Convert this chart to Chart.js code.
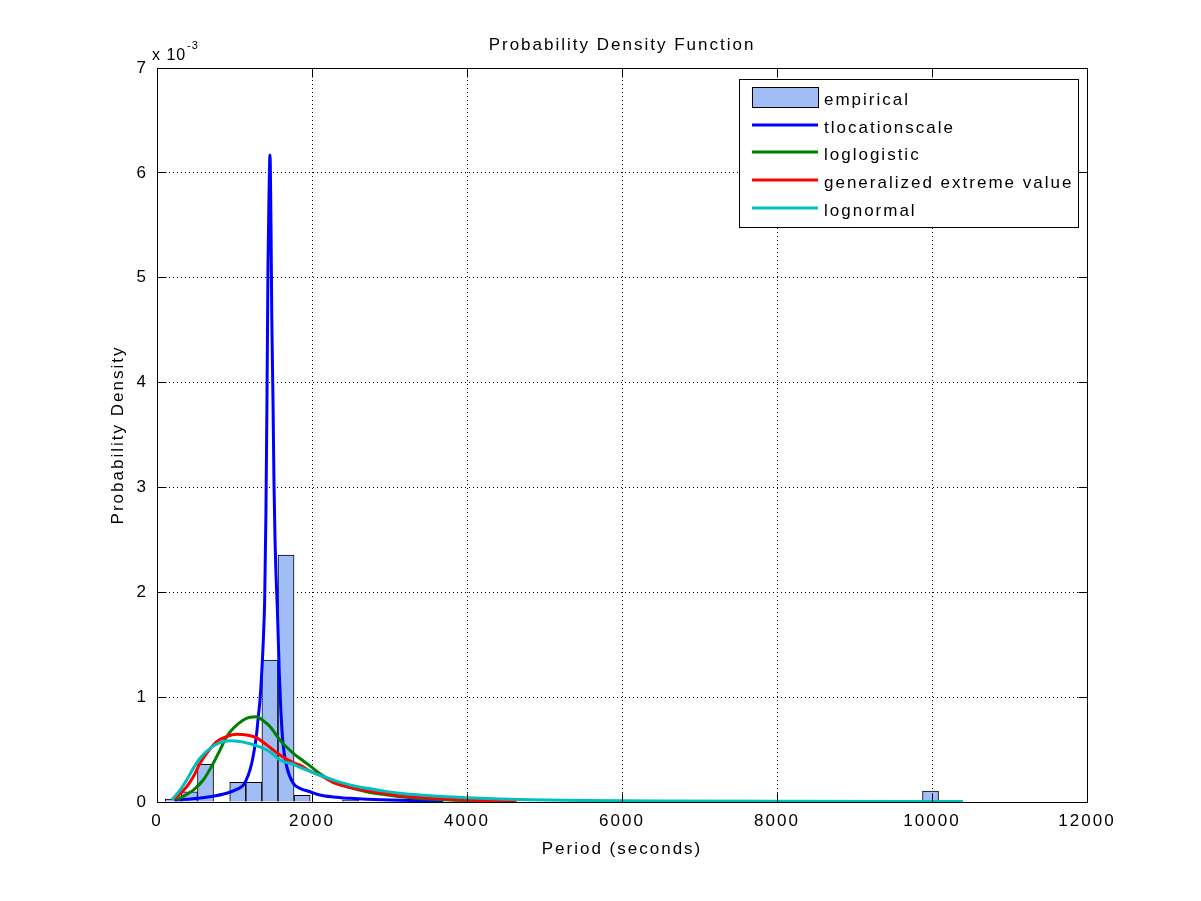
<!DOCTYPE html>
<html>
<head>
<meta charset="utf-8">
<script src="https://cdn.jsdelivr.net/npm/chart.js@4.4.0/dist/chart.umd.min.js"></script>
<style>
html,body{margin:0;padding:0;background:#fff;}
canvas{display:block;}
</style>
</head>
<body>
<canvas id="c" width="1201" height="901" style="width:1201px;height:901px"></canvas>
<script>
// ---------- DATA (density values in units of 10^-3) ----------
const chartTitle = 'Probability Density Function';
const xAxisTitle = 'Period (seconds)';
const yAxisTitle = 'Probability Density';
const xTickValues = [0, 2000, 4000, 6000, 8000, 10000, 12000];
const yTickValues = [0, 1, 2, 3, 4, 5, 6, 7];
const seriesNames = ['empirical', 'tlocationscale', 'loglogistic', 'generalized extreme value', 'lognormal'];

const binCenters = [210, 418, 626, 834, 1042, 1250, 1457, 1665, 1873, 2081, 2289, 2497,
  2705, 2913, 3121, 3329, 3536, 3744, 3952, 4160, 4368, 4576, 4784, 4992,
  5200, 5408, 5615, 5823, 6031, 6239, 6447, 6655, 6863, 7071, 7279, 7487,
  7694, 7902, 8110, 8318, 8526, 8734, 8942, 9150, 9358, 9566, 9773, 9981];
const empiricalDensity = [0.029, 0.098, 0.36, 0, 0.188, 0.188, 1.354, 2.355, 0.064, 0, 0, 0.019,
  0, 0, 0, 0, 0, 0, 0, 0, 0, 0, 0, 0,
  0, 0, 0, 0, 0, 0, 0, 0, 0, 0.012, 0, 0,
  0, 0, 0.012, 0, 0, 0, 0, 0, 0, 0, 0, 0.105];

const tlocX = [232, 468, 684, 899, 1028, 1114, 1178, 1222, 1255, 1286, 1307, 1329, 1351, 1372, 1390,
  1406, 1419, 1432, 1445, 1458, 1471, 1481, 1497, 1510, 1523, 1535, 1552, 1565, 1578, 1596, 1622,
  1674, 1759, 1845, 1974, 2103, 2275, 2490, 2706, 3135, 3694];
const tlocY = [0.02, 0.031, 0.05, 0.083, 0.121, 0.16, 0.257, 0.369, 0.496, 0.655, 0.813, 0.973, 1.23, 1.545, 1.95,
  2.78, 3.83, 5.11, 5.77, 6.17, 5.5, 4.63, 3.82, 3.02, 2.5, 2.18, 1.86, 1.545, 1.23, 0.909, 0.591,
  0.337, 0.178, 0.13, 0.098, 0.067, 0.048, 0.035, 0.026, 0.016, 0.01];

const loglogX = [254, 468, 597, 726, 813, 899, 985, 1114, 1200, 1286, 1372, 1458, 1587, 1759, 1845,
  1974, 2103, 2275, 2490, 2706, 2920, 3135, 3565, 3996, 4168];
const loglogY = [0.02, 0.114, 0.21, 0.369, 0.496, 0.623, 0.703, 0.782, 0.808, 0.813, 0.775, 0.72, 0.59, 0.464, 0.415,
  0.345, 0.27, 0.194, 0.137, 0.098, 0.073, 0.05, 0.026, 0.013, 0.01];

const gevX = [210, 383, 468, 555, 641, 770, 899, 1028, 1157, 1286, 1415, 1587, 1759, 1845, 1974,
  2103, 2275, 2490, 2706, 2920, 3135, 3565, 3996, 4641];
const gevY = [0.02, 0.146, 0.241, 0.369, 0.464, 0.575, 0.623, 0.645, 0.639, 0.612, 0.545, 0.448, 0.375, 0.352, 0.295,
  0.255, 0.185, 0.14, 0.108, 0.083, 0.06, 0.035, 0.019, 0.007];

const lognX = [190, 297, 383, 468, 555, 684, 813, 942, 1071, 1200, 1329, 1458, 1587, 1759, 1845, 1932,
  2103, 2275, 2490, 2706, 2920, 3135, 3565, 3996, 4426, 4813, 5500, 6500, 8000, 10400];
const lognY = [0.02, 0.114, 0.21, 0.321, 0.417, 0.512, 0.566, 0.585, 0.577, 0.555, 0.525, 0.48, 0.40, 0.36, 0.33, 0.305,
  0.255, 0.21, 0.162, 0.131, 0.105, 0.083, 0.057, 0.041, 0.029, 0.022, 0.015, 0.01, 0.006, 0.004];

// ---------- STYLE ----------
const FONT = "'Liberation Sans', Arial, Helvetica, sans-serif";
const barColor = 'rgb(160,190,245)';
const lineColors = ['rgb(0,0,255)', 'rgb(0,128,0)', 'rgb(255,0,0)', 'rgb(0,191,191)'];

const pts = (xs, ys) => xs.map((x, i) => ({x: x, y: ys[i]}));

function alignPx(p) { return Math.round(p - 0.5) + 0.5; }

const matlabFrame = {
  id: 'matlabFrame',
  beforeDraw(chart) { chart.ctx.letterSpacing = '2px'; },
  afterDatasetsDraw(chart) {
    const {ctx, chartArea: a, scales} = chart;
    ctx.save();
    ctx.strokeStyle = '#000';
    ctx.lineWidth = 1;
    ctx.setLineDash([]);
    const L = alignPx(a.left), R = alignPx(a.right), T = alignPx(a.top), B = alignPx(a.bottom);
    ctx.strokeRect(L, T, R - L, B - T);
    const tl = 9;
    ctx.beginPath();
    xTickValues.forEach(v => {
      const px = alignPx(scales.x.getPixelForValue(v));
      ctx.moveTo(px, B); ctx.lineTo(px, B - tl);
      ctx.moveTo(px, T); ctx.lineTo(px, T + tl);
    });
    yTickValues.forEach(v => {
      const py = alignPx(scales.y.getPixelForValue(v));
      ctx.moveTo(L, py); ctx.lineTo(L + tl, py);
      ctx.moveTo(R, py); ctx.lineTo(R - tl, py);
    });
    ctx.stroke();
    ctx.restore();
  },
  afterDraw(chart) {
    const {ctx, chartArea: a} = chart;
    ctx.save();
    ctx.letterSpacing = '2px';
    ctx.fillStyle = '#000';
    // title
    ctx.font = '17px ' + FONT;
    ctx.textAlign = 'center';
    ctx.textBaseline = 'middle';
    ctx.fillText(chartTitle, (a.left + a.right) / 2, 45);
    // exponent label
    ctx.textAlign = 'left';
    ctx.textBaseline = 'alphabetic';
    ctx.letterSpacing = '1px';
    ctx.font = '16px ' + FONT;
    ctx.fillText('x 10', 152, 60);
    ctx.font = '11px ' + FONT;
    ctx.fillText('-3', 187, 49);
    ctx.letterSpacing = '2px';
    // legend
    const lx = 739.5, ly = 79.5, lw = 339, lh = 148;
    ctx.fillStyle = '#fff';
    ctx.fillRect(lx, ly, lw, lh);
    ctx.strokeStyle = '#000';
    ctx.lineWidth = 1;
    ctx.strokeRect(lx, ly, lw, lh);
    const rows = [96.7, 124.5, 152.3, 180.3, 208.3];
    const ds = chart.data.datasets;
    ctx.font = '17px ' + FONT;
    rows.forEach((ry, i) => {
      const d = ds[i];
      if (i === 0) {
        ctx.fillStyle = d.backgroundColor;
        ctx.fillRect(752.5, 87.5, 66, 20);
        ctx.strokeStyle = '#000';
        ctx.lineWidth = 1;
        ctx.strokeRect(752.5, 87.5, 66, 20);
      } else {
        ctx.strokeStyle = d.borderColor;
        ctx.lineWidth = 3;
        ctx.beginPath();
        ctx.moveTo(752, Math.round(ry));
        ctx.lineTo(818, Math.round(ry));
        ctx.stroke();
      }
      ctx.fillStyle = '#000';
      ctx.textAlign = 'left';
      ctx.textBaseline = 'alphabetic';
      ctx.fillText(d.label, 824, ry + 8);
    });
    ctx.restore();
  }
};

Chart.defaults.font.family = FONT;
Chart.defaults.font.size = 17;
Chart.defaults.color = '#000';

new Chart(document.getElementById('c'), {
  type: 'line',
  data: {
    datasets: [
      {
        type: 'bar', label: seriesNames[0],
        data: pts(binCenters, empiricalDensity),
        backgroundColor: barColor, borderColor: '#000', borderWidth: 1,
        borderSkipped: 'start', barPercentage: 1, categoryPercentage: 1, order: 5
      },
      {
        type: 'line', label: seriesNames[1], data: pts(tlocX, tlocY),
        borderColor: lineColors[0], borderWidth: 3, pointRadius: 0, fill: false,
        cubicInterpolationMode: 'monotone', order: 4
      },
      {
        type: 'line', label: seriesNames[2], data: pts(loglogX, loglogY),
        borderColor: lineColors[1], borderWidth: 3, pointRadius: 0, fill: false,
        cubicInterpolationMode: 'monotone', order: 3
      },
      {
        type: 'line', label: seriesNames[3], data: pts(gevX, gevY),
        borderColor: lineColors[2], borderWidth: 3, pointRadius: 0, fill: false,
        cubicInterpolationMode: 'monotone', order: 2
      },
      {
        type: 'line', label: seriesNames[4], data: pts(lognX, lognY),
        borderColor: lineColors[3], borderWidth: 3, pointRadius: 0, fill: false,
        cubicInterpolationMode: 'monotone', order: 1
      }
    ]
  },
  options: {
    responsive: false,
    animation: false,
    devicePixelRatio: 1,
    layout: {padding: {top: 68, right: 114, bottom: 0, left: 0}},
    plugins: {
      legend: {display: false},
      title: {display: false},
      tooltip: {enabled: false}
    },
    scales: {
      x: {
        type: 'linear', position: 'bottom', min: 0, max: 12000, offset: false,
        afterBuildTicks: s => { s.ticks = xTickValues.map(v => ({value: v})); },
        ticks: {padding: 9, maxRotation: 0, autoSkip: false, color: '#000',
          font: {size: 17, family: FONT}, callback: v => String(v)},
        grid: {color: '#000', lineWidth: 1, drawTicks: false, offset: false},
        border: {display: false, dash: [1, 3]},
        title: {display: true, text: xAxisTitle, color: '#000', font: {size: 17, family: FONT},
          padding: {top: 0, bottom: 41.8}},
        afterFit: s => { s.height = 99; }
      },
      y: {
        type: 'linear', position: 'left', min: 0, max: 7,
        afterBuildTicks: s => { s.ticks = yTickValues.map(v => ({value: v})); },
        ticks: {padding: 9, color: '#000', font: {size: 17, family: FONT}, callback: v => String(v)},
        grid: {color: '#000', lineWidth: 1, drawTicks: false},
        border: {display: false, dash: [1, 3]},
        title: {display: true, text: yAxisTitle, color: '#000', font: {size: 17, family: FONT},
          padding: {top: 107.8, bottom: 0}},
        afterFit: s => { s.width = 157; }
      }
    }
  },
  plugins: [matlabFrame]
});
</script>
</body>
</html>
